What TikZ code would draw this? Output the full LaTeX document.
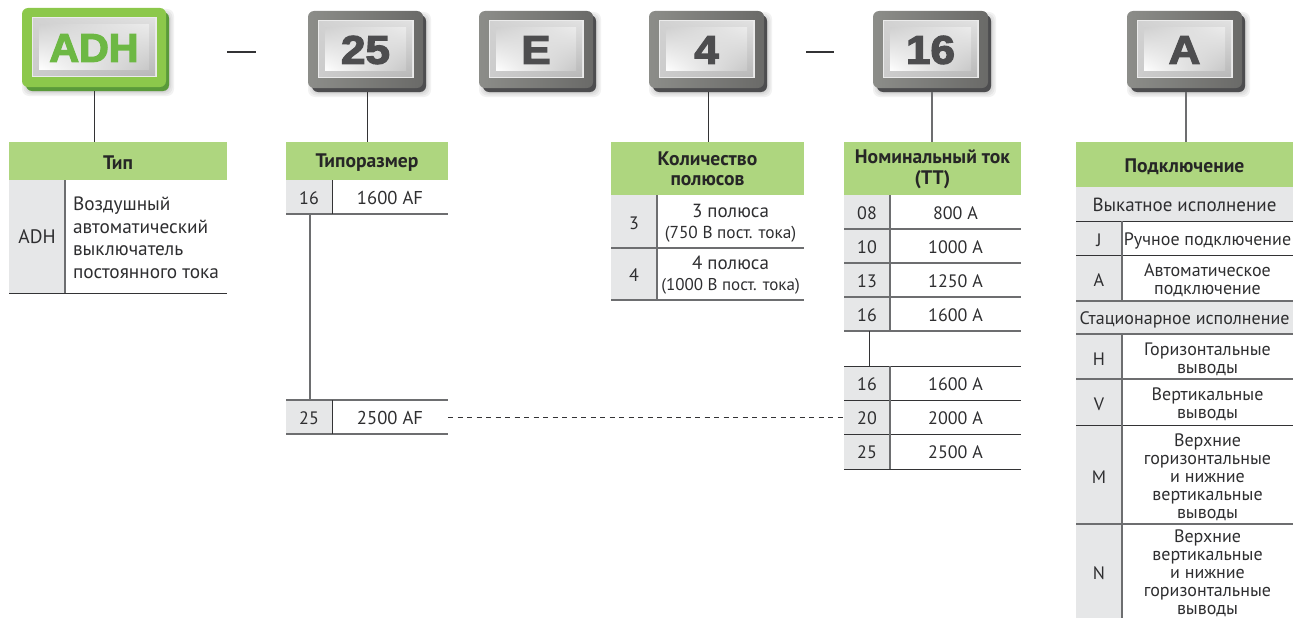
\documentclass[tikz,border=0pt]{standalone}
\usepackage{fontspec}
\setmainfont{PT Sans}
\newfontfamily\keyfont[FakeBold=3]{Liberation Sans Bold}
\usetikzlibrary{calc,shadings}
\definecolor{hdr}{HTML}{AED67F}
\definecolor{codec}{HTML}{E6E7E8}
\definecolor{txt}{HTML}{2E2E30}
\definecolor{rulegray}{HTML}{6D6E70}
\definecolor{ruledark}{HTML}{333335}
\definecolor{keygreen}{HTML}{6DB844}
\definecolor{keygreenL}{HTML}{8CC84B}
\definecolor{keygreenM}{HTML}{8CC84B}
\definecolor{keygreenD}{HTML}{5A9A3A}
\definecolor{keygrayL}{HTML}{8C8D89}
\definecolor{keygrayM}{HTML}{6A6A68}
\definecolor{keygrayD}{HTML}{4D4D4F}
\newcommand{\fA}{\fontsize{18}{18}\selectfont}
\newcommand{\fB}{\fontsize{19}{19}\selectfont}
\newcommand{\fC}{\fontsize{17.3}{18}\selectfont}
\tikzset{
  every node/.style={inner sep=0pt,outer sep=0pt,text=txt,align=center},
  cell/.style={anchor=north west,font=\fA},
  head/.style={cell,fill=hdr,minimum height=38pt},
  headtext/.style={text=black!85,font=\fontsize{19.6}{20}\selectfont\bfseries},
  code/.style={cell,fill=codec},
  band/.style={cell,fill=codec},
  celltext/.style={font=\fA},
  rule/.style={draw=rulegray,line width=1.3pt},
  ruled/.style={draw=ruledark,line width=1pt},
  conn/.style={draw=ruledark,line width=1pt},
  dashline/.style={draw=ruledark,line width=.8pt,dash pattern=on 5pt off 4.5pt},
  sep/.style={draw=ruledark,line width=2.2pt},
}
% name, x, y, w, h, label, colour set (green / gray), text colour, text xscale
\newcommand{\keybox}[9]{%
  \foreach \s in {5,3.5,2,.8}{\fill[black,opacity=.05,rounded corners=7pt] (#2+5-\s,#3+6-\s) rectangle (#2+#4+3+\s,#3+#5+4+\s);}
  \fill[#7D,rounded corners=6pt] (#2+4,#3+4) rectangle (#2+#4+3,#3+#5+4);
  \node[anchor=north west,minimum width=#4pt,minimum height=#5pt,rounded corners=6pt,left color=#7L,right color=#7M] (#1) at (#2,#3) {};
  \fill[white!92!black] (#2+9.5,#3+9.5) rectangle (#2+#4-9.5,#3+#5-9.5);
  \shade[shading=bilinear interpolation,upper left=white!82!black,lower left=white!80!black,upper right=white!88!black,lower right=white!72!black] (#2+11,#3+11) rectangle (#2+#4-11,#3+#5-11);
  \shade[shading=bilinear interpolation,upper left=white!82!black,lower left=white,upper right=white!92!black,lower right=white!78!black] (#2+17,#3+17) rectangle (#2+#4-17,#3+#5-17);
  \node[text=#8,font=\keyfont\fontsize{40}{40}\selectfont] at (#2+#4/2,#3+#5/2+.5) {\scalebox{#9}[1]{#6}};
}
% name, x0, xdiv, x1, ytop, ybot, code, text: the cells, then their texts set \rs lower
\newcommand{\rs}{0pt}
\newcommand{\trow}[8]{%
  \node[code,minimum width={(#3-#2)*1pt},minimum height={(#6-#5)*1pt}] (#1c) at (#2,#5) {};
  \node[cell,minimum width={(#4-#3)*1pt},minimum height={(#6-#5)*1pt}] (#1t) at (#3,#5) {};
  \node[celltext] (#1cl) at ([yshift=-\rs]#1c.center) {#7};
  \node[celltext] (#1tl) at ([yshift=-\rs]#1t.center) {#8};
}
\begin{document}
\begin{tikzpicture}[x=1pt,y=-1pt]
\useasboundingbox (0,0) rectangle (1293,618);
% keys
\keybox{kADH}{22}{8}{144}{79}{ADH}{keygreen}{keygreen}{1.03}
\keybox{kS}{308}{11}{115}{77}{25}{keygray}{keygrayD}{1.1}
\keybox{kE}{479}{11}{114}{77}{E}{keygray}{keygrayD}{1.1}
\keybox{kP}{649}{11}{115}{77}{4}{keygray}{keygrayD}{1.1}
\keybox{kC}{873}{11}{115}{77}{16}{keygray}{keygrayD}{1.1}
\keybox{kA}{1127}{11}{115}{77}{A}{keygray}{keygrayD}{1.1}
% separators
\coordinate (s1a) at (227,52); \coordinate (s1b) at (256,52);
\coordinate (s2a) at (806,52); \coordinate (s2b) at (834,52);
\draw[sep] (s1a) -- (s1b);
\draw[sep] (s2a) -- (s2b);
% Type
\node[head,minimum width=218pt] (hT) at (9,142) {};
\node[headtext] (hTl) at ([yshift=-2pt]hT.center) {Тип};
\node[code,minimum width=56pt,minimum height=113pt,font=\fontsize{19.5}{20}\selectfont] (tAc) at (9,180) {ADH};
\node[anchor=west,align=left,font=\fontsize{19.3}{22.5}\selectfont] (tAt) at (73,238) {Воздушный\\автоматический\\выключатель\\постоянного тока};
\coordinate (tAe) at (227,293);
\draw[ruled] (tAc.south west) -- (tAe);
\draw[rule] (tAc.north east) -- (tAc.south east);
\draw[conn] (94,91) -- (94,142);
% Size
\renewcommand{\rs}{1pt}
\node[head,minimum width=162pt] (hS) at (286,142) {};
\node[headtext] (hSl) at ([yshift=-2pt]hS.center) {Типоразмер};
\trow{s16}{286}{332}{448}{180}{214}{16}{\fontsize{18.6}{19}\selectfont 1600 AF}
\trow{s25}{286}{332}{448}{400}{434}{25}{\fontsize{18.6}{19}\selectfont 2500 AF}
\draw[rule] (s16c.south west) -- (s16t.south east);
\draw[rule] (s25c.north west) -- (s25t.north east);
\draw[rule] (s25c.south west) -- (s25t.south east);
\draw[ruled] (s16c.north east) -- (s16c.south east);
\draw[ruled] (s25c.north east) -- (s25c.south east);
\coordinate (v1a) at (310,214); \coordinate (v1b) at (310,400);
\draw[rule] (v1a) -- (v1b);
\draw[conn] (367,92) -- (367,142);
% Poles
\renewcommand{\rs}{1.5pt}
\node[head,minimum width=193pt,minimum height=53pt] (hP) at (611,142) {};
\node[headtext] (hPl) at (hP.center) {Количество\\полюсов};
\trow{p3}{611}{657}{804}{195}{248}{3}{{\fB 3 полюса}\\[3pt]{\fC (750 В пост. тока)}}
\trow{p4}{611}{657}{804}{248}{300}{4}{{\fB 4 полюса}\\[3pt]{\fontsize{17}{18}\selectfont (1000 В пост. тока)}}
\draw[rule] (p3c.south west) -- (p3t.south east);
\draw[rule] (p4c.south west) -- (p4t.south east);
\draw[rule] (p3c.north east) -- (p4c.south east);
\draw[conn] (708,92) -- (708,142);
% Current
\renewcommand{\rs}{1pt}
\node[head,minimum width=177pt,minimum height=53pt] (hC) at (844,142) {};
\node[headtext] (hCl) at ([yshift=-.5pt]hC.center) {Номинальный ток\\[1pt](ТТ)};
\trow{c1}{844}{890}{1021}{195}{229}{08}{800 А}
\trow{c2}{844}{890}{1021}{229}{263}{10}{1000 А}
\trow{c3}{844}{890}{1021}{263}{297}{13}{1250 А}
\trow{c4}{844}{890}{1021}{297}{331}{16}{1600 А}
\trow{c5}{844}{890}{1021}{366}{400}{16}{1600 А}
\trow{c6}{844}{890}{1021}{400}{434}{20}{2000 А}
\trow{c7}{844}{890}{1021}{434}{469}{25}{2500 А}
\foreach \r in {c1,c2,c3,c4}{\draw[rule] (\r c.south west) -- (\r t.south east);}
\draw[ruled] (c5c.north west) -- (c5t.north east);
\foreach \r in {c5,c6,c7}{\draw[ruled] (\r c.south west) -- (\r t.south east);}
\draw[rule] (c1c.north east) -- (c4c.south east);
\draw[rule] (c5c.north east) -- (c7c.south east);
\coordinate (v2a) at (869,331); \coordinate (v2b) at (869,366);
\draw[ruled] (v2a) -- (v2b);
\draw[rule,line width=1.2pt] (932,92) -- (932,142);
% dashed link
\draw[dashline] (s25t.east) -- (c6c.west);
% Connection
\renewcommand{\rs}{2.5pt}
\node[head,minimum width=217pt,minimum height=45pt] (hA) at (1076,142) {};
\node[headtext] (hAl) at ([yshift=-2pt]hA.center) {Подключение};
\node[band,minimum width=217pt,minimum height=34pt] (b1) at (1076,187) {};
\node[font=\fB] (b1l) at ([yshift=-1pt]b1.center) {Выкатное исполнение};
\trow{aJ}{1076}{1122}{1293}{221}{255}{J}{Ручное подключение}
\trow{aA}{1076}{1122}{1293}{255}{301}{A}{Автоматическое\\подключение}
\node[band,minimum width=217pt,minimum height=33pt] (b2) at (1076,301) {};
\node[font=\fA] (b2l) at ([yshift=-2pt]b2.center) {Стационарное исполнение};
\trow{aH}{1076}{1122}{1293}{334}{379}{H}{Горизонтальные\\выводы}
\trow{aV}{1076}{1122}{1293}{379}{425}{V}{Вертикальные\\выводы}
\trow{aM}{1076}{1122}{1293}{425}{524}{M}{Верхние\\горизонтальные\\и нижние\\вертикальные\\выводы}
\trow{aN}{1076}{1122}{1293}{524}{618}{N}{Верхние\\вертикальные\\и нижние\\горизонтальные\\выводы}
\draw[ruled] (b1.south west) -- (b1.south east);
\draw[ruled] (aJc.south west) -- (aJt.south east);
\draw[rule] (aAc.south west) -- (aAt.south east);
\draw[rule] (b2.south west) -- (b2.south east);
\draw[rule] (aHc.south west) -- (aHt.south east);
\draw[ruled] (aVc.south west) -- (aVt.south east);
\draw[rule] (aMc.south west) -- (aMt.south east);
\draw[rule] (aJc.north east) -- (aAc.south east);
\draw[rule] (aHc.north east) -- (aNc.south east);
\draw[rule,line width=1.2pt] (1186,92) -- (1186,142);
\end{tikzpicture}
\end{document}
